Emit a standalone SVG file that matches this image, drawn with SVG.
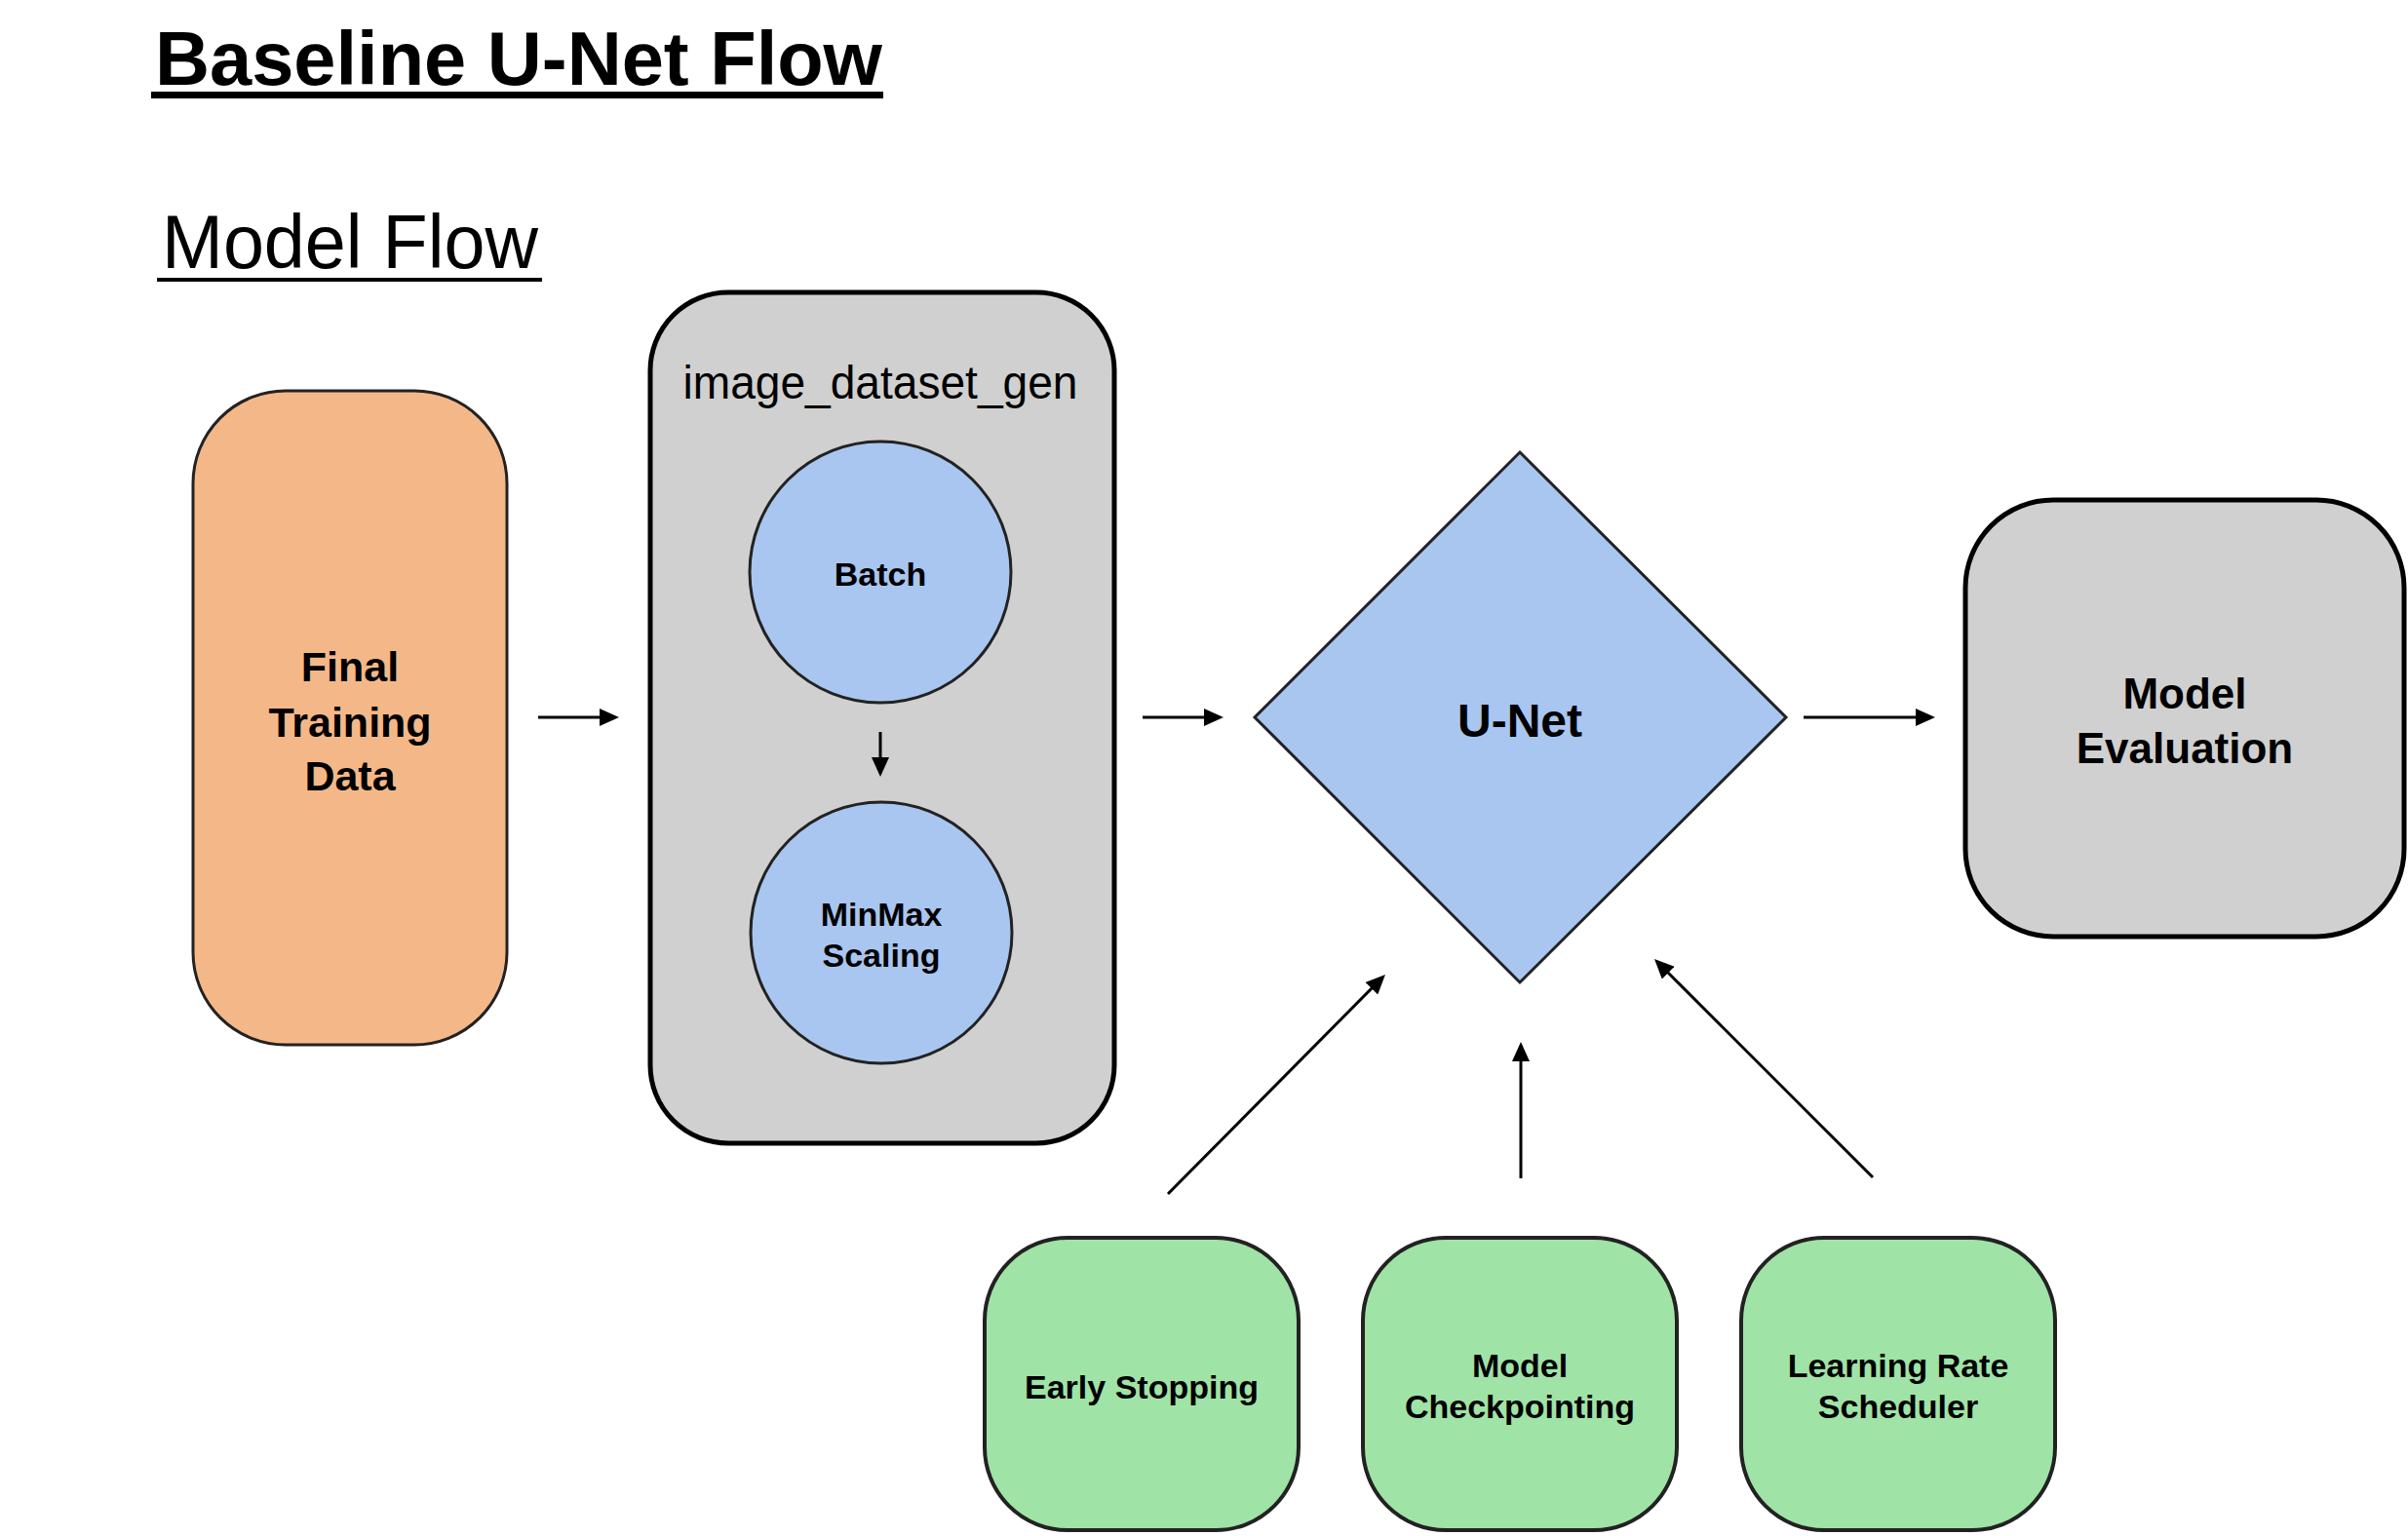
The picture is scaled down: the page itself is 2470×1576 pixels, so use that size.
<svg xmlns="http://www.w3.org/2000/svg" width="2470" height="1576" viewBox="0 0 2470 1576">
<style>
  .lbl { font-family: "Liberation Sans", Arial, sans-serif; font-weight: bold; fill: #000; text-anchor: middle; }
  .conn { stroke: #000; stroke-width: 3; fill: none; }
</style>
<defs>
  <marker id="ah" markerUnits="userSpaceOnUse" viewBox="0 0 20 18" refX="8" refY="9" markerWidth="20" markerHeight="18" orient="auto">
    <path d="M0,0 L20,9 L0,18 z" fill="#000"/>
  </marker>
</defs>
<rect x="0" y="0" width="2470" height="1576" fill="#fff"/>

<g id="title">
  <text x="159" y="87" font-family="Liberation Sans, Arial, sans-serif" font-weight="bold" font-size="78" textLength="746" lengthAdjust="spacingAndGlyphs">Baseline U-Net Flow</text>
  <rect x="155" y="94" width="751" height="7" fill="#000"/>
</g>
<g id="subtitle">
  <text x="166" y="275" font-family="Liberation Sans, Arial, sans-serif" font-size="78" textLength="386" lengthAdjust="spacingAndGlyphs">Model Flow</text>
  <rect x="161" y="285" width="395" height="4" fill="#000"/>
</g>

<g id="final-training-data">
  <rect x="198" y="401" width="322" height="671" rx="95" ry="95" fill="#F4B888" stroke="#222" stroke-width="3"/>
  <text class="lbl" x="359" y="699" font-size="43">Final</text>
  <text class="lbl" x="359" y="756" font-size="43">Training</text>
  <text class="lbl" x="359" y="811" font-size="43">Data</text>
</g>

<g id="image-dataset-gen">
  <rect x="667" y="300" width="476" height="873" rx="80" ry="80" fill="#D0D0D0" stroke="#000" stroke-width="5"/>
  <text x="903" y="409" font-family="Liberation Sans, Arial, sans-serif" font-size="48" text-anchor="middle" textLength="405" lengthAdjust="spacingAndGlyphs">image_dataset_gen</text>
</g>

<g id="batch">
  <circle cx="903" cy="587" r="134" fill="#A9C6F0" stroke="#222" stroke-width="3"/>
  <text class="lbl" x="903" y="601" font-size="34">Batch</text>
</g>

<g id="minmax-scaling">
  <circle cx="904" cy="957" r="134" fill="#A9C6F0" stroke="#222" stroke-width="3"/>
  <text class="lbl" x="904" y="950" font-size="34">MinMax</text>
  <text class="lbl" x="904" y="992" font-size="34">Scaling</text>
</g>

<g id="u-net">
  <polygon points="1559,464 1832,736 1559,1008 1287,736" fill="#A9C6F0" stroke="#222" stroke-width="3"/>
  <text class="lbl" x="1559" y="756" font-size="48">U-Net</text>
</g>

<g id="model-evaluation">
  <rect x="2016" y="513" width="450" height="448" rx="90" ry="90" fill="#D0D0D0" stroke="#000" stroke-width="5"/>
  <text class="lbl" x="2241" y="727" font-size="44">Model</text>
  <text class="lbl" x="2241" y="783" font-size="44">Evaluation</text>
</g>

<g id="early-stopping">
  <rect x="1010" y="1270" width="322" height="300" rx="85" ry="85" fill="#A0E3A7" stroke="#222" stroke-width="4"/>
  <text class="lbl" x="1171" y="1435" font-size="34">Early Stopping</text>
</g>

<g id="model-checkpointing">
  <rect x="1398" y="1270" width="322" height="300" rx="85" ry="85" fill="#A0E3A7" stroke="#222" stroke-width="4"/>
  <text class="lbl" x="1559" y="1413" font-size="34">Model</text>
  <text class="lbl" x="1559" y="1455" font-size="34">Checkpointing</text>
</g>

<g id="learning-rate-scheduler">
  <rect x="1786" y="1270" width="322" height="300" rx="85" ry="85" fill="#A0E3A7" stroke="#222" stroke-width="4"/>
  <text class="lbl" x="1947" y="1413" font-size="34">Learning Rate</text>
  <text class="lbl" x="1947" y="1455" font-size="34">Scheduler</text>
</g>

<g id="connectors">
  <line class="conn" x1="552" y1="736" x2="623" y2="736" marker-end="url(#ah)"/>
  <line class="conn" x1="1172" y1="736" x2="1243" y2="736" marker-end="url(#ah)"/>
  <line class="conn" x1="1850" y1="736" x2="1973" y2="736" marker-end="url(#ah)"/>
  <line class="conn" x1="903" y1="751" x2="903" y2="785" marker-end="url(#ah)"/>
  <line class="conn" x1="1198" y1="1225" x2="1412.5" y2="1008.5" marker-end="url(#ah)"/>
  <line class="conn" x1="1560" y1="1209" x2="1560" y2="1081" marker-end="url(#ah)"/>
  <line class="conn" x1="1921" y1="1208" x2="1705.5" y2="992.5" marker-end="url(#ah)"/>
</g>
</svg>
